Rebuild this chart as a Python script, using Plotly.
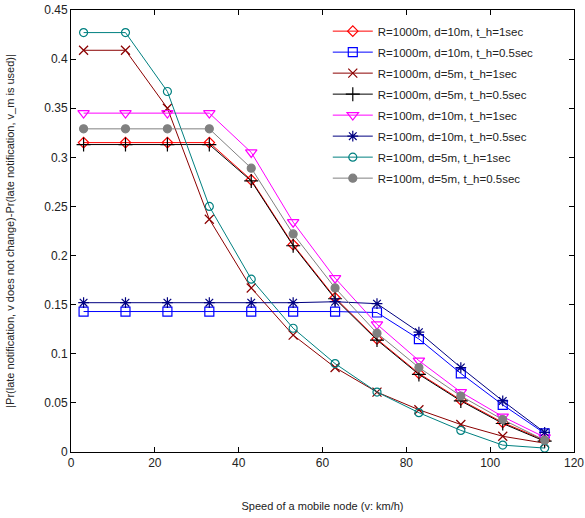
import plotly.graph_objects as go

speed = [3, 13, 23, 33, 43, 53, 63, 73, 83, 93, 103, 113]

names = [
    "R=1000m, d=10m, t_h=1sec",
    "R=1000m, d=10m, t_h=0.5sec",
    "R=1000m, d=5m, t_h=1sec",
    "R=1000m, d=5m, t_h=0.5sec",
    "R=100m, d=10m, t_h=1sec",
    "R=100m, d=10m, t_h=0.5sec",
    "R=100m, d=5m, t_h=1sec",
    "R=100m, d=5m, t_h=0.5sec",
]

r1000_d10_t1 = [0.315, 0.315, 0.315, 0.315, 0.277, 0.211, 0.157, 0.115, 0.080, 0.053, 0.030, 0.012]
r1000_d10_t05 = [0.143, 0.143, 0.143, 0.143, 0.143, 0.143, 0.143, 0.142, 0.115, 0.080, 0.048, 0.019]
r1000_d5_t1 = [0.409, 0.409, 0.350, 0.237, 0.167, 0.119, 0.086, 0.061, 0.043, 0.028, 0.016, 0.009]
r1000_d5_t05 = [0.313, 0.313, 0.313, 0.313, 0.276, 0.210, 0.156, 0.114, 0.079, 0.052, 0.029, 0.011]
r100_d10_t1 = [0.345, 0.345, 0.345, 0.345, 0.305, 0.234, 0.177, 0.130, 0.093, 0.061, 0.036, 0.015]
r100_d10_t05 = [0.152, 0.152, 0.152, 0.152, 0.152, 0.152, 0.153, 0.151, 0.122, 0.086, 0.052, 0.020]
r100_d5_t1 = [0.427, 0.427, 0.367, 0.250, 0.176, 0.126, 0.090, 0.061, 0.040, 0.022, 0.007, 0.004]
r100_d5_t05 = [0.329, 0.329, 0.329, 0.329, 0.289, 0.222, 0.167, 0.121, 0.086, 0.057, 0.033, 0.012]

series = [r1000_d10_t1, r1000_d10_t05, r1000_d5_t1, r1000_d5_t05,
          r100_d10_t1, r100_d10_t05, r100_d5_t1, r100_d5_t05]

colors = ["#ff0000", "#0000ff", "#8b0000", "#000000", "#ff00ff", "#000080", "#008080", "#808080"]
symbols = ["diamond-open", "square-open", "x-thin-open", "cross-thin-open",
           "triangle-down-open", "asterisk-open", "circle-open", "circle"]
sizes = [8, 9, 9, 10, 10, 9, 8, 8]

fig = go.Figure()
for i, (name, ys, c, s, sz) in enumerate(zip(names, series, colors, symbols, sizes)):
    fig.add_trace(go.Scatter(
        x=speed, y=ys, name=name, mode="lines+markers", legendgroup=f"g{i}",
        line=dict(color=c, width=1),
        marker=dict(symbol=s, size=sz, color=c, line=dict(color=c, width=1.2)),
    ))

axis_common = dict(
    showline=True, linecolor="black", linewidth=1, mirror="ticks",
    ticks="inside", ticklen=5, tickcolor="black", showgrid=False, zeroline=False,
    tickfont=dict(family="Arial, Liberation Sans", size=12, color="#222"),
    automargin=False,
)

fig.update_layout(
    width=585, height=518,
    margin=dict(l=71, r=11, t=10, b=66),
    paper_bgcolor="white", plot_bgcolor="white",
    font=dict(family="Arial, Liberation Sans", color="#222"),
    xaxis=dict(range=[0, 120], dtick=20,
               title=dict(text="Speed of a mobile node (v: km/h)", font=dict(size=11), standoff=32),
               **axis_common),
    yaxis=dict(range=[0, 0.45], dtick=0.05, tickformat="~g",
               title=dict(text="|Pr(late notification, v does not change)-Pr(late notification, v_m is used)|",
                          font=dict(size=11), standoff=27),
               **axis_common),
    legend=dict(x=0.93, y=0.985, xanchor="right", yanchor="top",
                bgcolor="rgba(255,255,255,0)", font=dict(size=11.5, color="#222"),
                itemwidth=40, tracegroupgap=2, traceorder="grouped"),
)

fig.write_html("out.html", post_script="document.body.style.margin='0';",
               config={"displayModeBar": False})
